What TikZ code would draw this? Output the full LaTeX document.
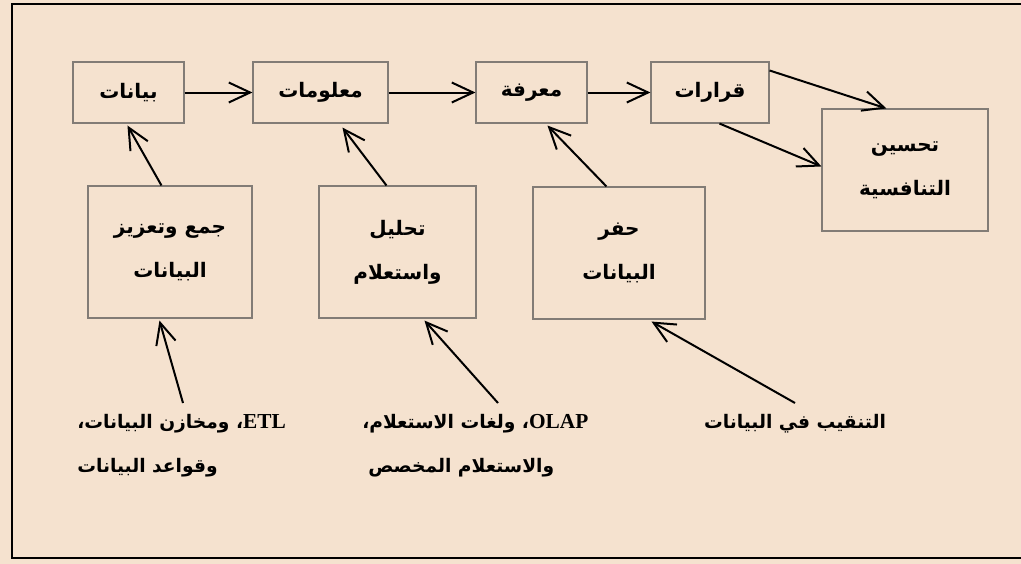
\documentclass[tikz,border=0pt]{standalone}
\usepackage{fontspec}
\TeXXeTstate=1
\newfontfamily\arabicfont[Script=Arabic]{DejaVu Sans}
\newfontfamily\latinserif{Liberation Serif}
\usetikzlibrary{arrows.meta,calc}
\definecolor{bg}{RGB}{245,226,207}
\definecolor{boxline}{RGB}{130,124,118}
\newcommand{\ar}{\arabicfont\bfseries\fontsize{15pt}{33pt}\selectfont}
\newcommand{\arb}{\arabicfont\bfseries\fontsize{14pt}{33pt}\selectfont}
\newcommand{\lt}[1]{\beginL{\latinserif\bfseries\fontsize{16pt}{33pt}\selectfont #1}\endL{}}
\begin{document}
\begin{tikzpicture}[x=0.75pt,y=-0.75pt,
  bx/.style 2 args={draw=boxline, line width=0.8pt, minimum width=#1*0.75pt, minimum height=#2*0.75pt, inner sep=0pt, align=center, font=\ar},
  arr/.style={draw=black, line width=1.5pt, -{Straight Barb[length=16pt,width=15pt,line width=1.5pt]}},
  lbl/.style={font=\arb, inner sep=0pt, anchor=base west}]
\useasboundingbox (0,0) rectangle (1021,564);
\fill[bg] (0,0) rectangle (1021,564);
\draw[line width=1.4pt] (1030,4) -- (12,4) -- (12,558) -- (1030,558);

% top row
\node[bx={111}{61}] (b) at (128.5,92.5) {\beginR بيانات\endR};
\node[bx={135}{61}] (m) at (320.5,92.5) {\beginR معلومات\endR};
\node[bx={111}{61}] (f) at (531.5,92.5) {\beginR معرفة\endR};
\node[bx={118}{61}] (q) at (710,92.5) {\beginR قرارات\endR};
\node[bx={166}{122}] (t) at (905,170) {\beginR تحسين\endR\\\beginR التنافسية\endR};

% middle row
\node[bx={164}{132}] (j) at (170,252) {\beginR جمع وتعزيز\endR\\\beginR البيانات\endR};
\node[bx={157}{132}] (a) at (397.5,252) {\beginR تحليل\endR\\\beginR واستعلام\endR};
\node[bx={172}{132}] (h) at (619,253) {\beginR حفر\endR\\\beginR البيانات\endR};

% bottom texts
\node[lbl] (e1) at (77,428) {\beginR\lt{ETL}، ومخازن البيانات،\endR};
\node[lbl] (e2) at (77,472) {\beginR وقواعد البيانات\endR};
\node[lbl] (o1) at (362,428) {\beginR\lt{OLAP}، ولغات الاستعلام،\endR};
\node[lbl] (o2) at (368,472) {\beginR والاستعلام المخصص\endR};
\node[lbl,anchor=base] (d1) at (795,428) {\beginR التنقيب في البيانات\endR};

\coordinate (s1) at (183,403);
\coordinate (s2) at (498,403);
\coordinate (s3) at (795,403);

% connectors
\draw[arr] (b.east) -- (m.west);
\draw[arr] (m.east) -- (f.west);
\draw[arr] (f.east) -- (q.west);
\draw[arr] ($(q.north east)+(0,9)$) -- ($(t.north west)+(65,0)$);
\draw[arr] ($(q.south west)+(69,0)$) -- ($(t.north west)+(0,58)$);
\draw[arr] ($(j.north west)+(74,0)$) -- ($(b.south west)+(55,2)$);
\draw[arr] ($(a.north west)+(68,0)$) -- ($(m.south west)+(90,4)$);
\draw[arr] ($(h.north west)+(74,0)$) -- ($(f.south west)+(72,2)$);
\draw[arr] (s1) -- ($(j.south west)+(72,2)$);
\draw[arr] (s2) -- ($(a.south west)+(106,2)$);
\draw[arr] (s3) -- ($(h.south west)+(119,2)$);
\end{tikzpicture}
\end{document}
